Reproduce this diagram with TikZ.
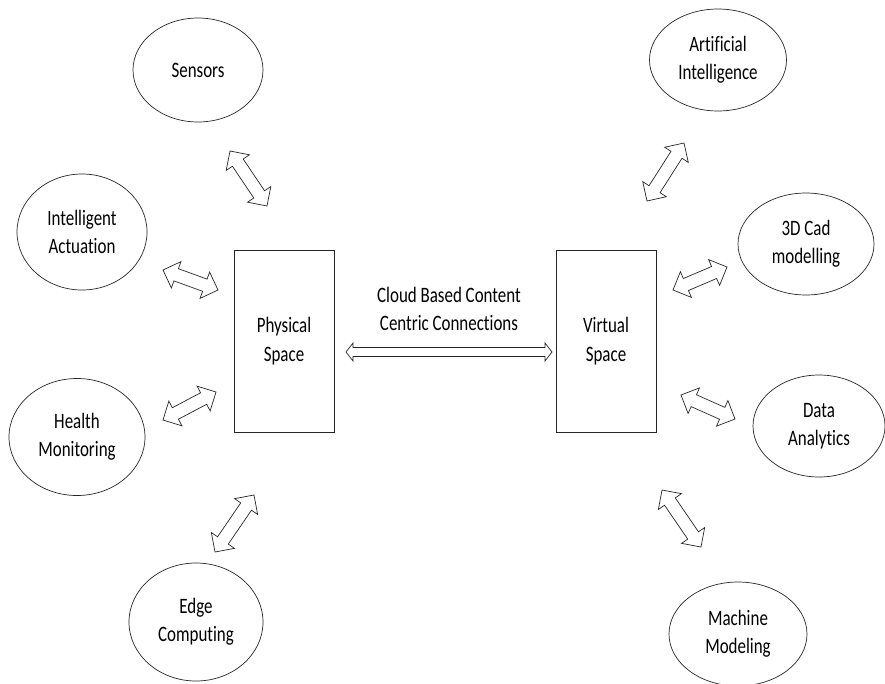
\documentclass[tikz,border=0pt]{standalone}
\usepackage{fontspec}
\setmainfont{Carlito}[FakeStretch=0.77, Ligatures=NoCommon]
\usetikzlibrary{shapes.geometric,calc}

\tikzset{
  bubble/.style={ellipse, draw=black!85, line width=0.7pt, inner sep=0pt,
    align=center, font=\fontsize{22}{28}\selectfont},
  spacebox/.style={rectangle, draw=black!85, line width=0.8pt, inner sep=0pt,
    minimum width=100pt, minimum height=182pt, align=center,
    font=\fontsize{22}{29}\selectfont},
  caption/.style={align=center, inner sep=0pt, font=\fontsize{22}{28}\selectfont},
  arrowline/.style={draw=black!85, line width=0.7pt, line join=miter, fill=white},
}

% hollow double-headed block arrow between two named points
% #1 from, #2 to, #3 head length, #4 head half-width, #5 shaft half-width
\newcommand\blockarrow[5]{%
  \path ($(#1)!#3!(#2)$) coordinate (ba-p)
        ($(#2)!#3!(#1)$) coordinate (ba-q);
  \draw[arrowline] (#1)
    -- ($(ba-p)!#4!90:(#2)$) -- ($(ba-p)!#5!90:(#2)$)
    -- ($(ba-q)!#5!-90:(#1)$) -- ($(ba-q)!#4!-90:(#1)$)
    -- (#2)
    -- ($(ba-q)!#4!90:(#1)$) -- ($(ba-q)!#5!90:(#1)$)
    -- ($(ba-p)!#5!-90:(#2)$) -- ($(ba-p)!#4!-90:(#2)$)
    -- cycle;}

\begin{document}
\begin{tikzpicture}[x=1pt,y=-1pt]
  \useasboundingbox (0,0) rectangle (885,683);

  % the two spaces
  \node[spacebox] (phys) at (284,341) {Physical\\Space};
  \node[spacebox] (virt) at (606,341) {Virtual\\Space};
  \node[caption] (cloud) at (449,309) {Cloud Based Content\\Centric Connections};

  % physical side
  \node[bubble, minimum width=130pt, minimum height=104pt] (sens) at (198,70) {Sensors};
  \node[bubble, minimum width=130pt, minimum height=116pt] (act)  at (82,232) {Intelligent\\Actuation};
  \node[bubble, minimum width=136pt, minimum height=117pt] (hlth) at (77,437) {Health\\Monitoring};
  \node[bubble, minimum width=134pt, minimum height=118pt] (edge) at (196,622) {Edge\\Computing};

  % virtual side
  \node[bubble, minimum width=137pt, minimum height=102pt] (ai)   at (718,60) {Artificial\\Intelligence};
  \node[bubble, minimum width=136pt, minimum height=102pt] (cad)  at (806,244) {3D Cad\\modelling};
  \node[bubble, minimum width=132pt, minimum height=102pt] (data) at (819,426) {Data\\Analytics};
  \node[bubble, minimum width=138pt, minimum height=104pt] (mach) at (738,634) {Machine\\Modeling};

  % arrow end points
  \coordinate (sensA) at (230,151); \coordinate (sensB) at (267,206);
  \coordinate (actA)  at (163,270); \coordinate (actB)  at (218,290);
  \coordinate (hlthA) at (163,420); \coordinate (hlthB) at (216,392);
  \coordinate (edgeA) at (215,552); \coordinate (edgeB) at (254,495);
  \coordinate (aiA)   at (647,201); \coordinate (aiB)   at (684,143);
  \coordinate (cadA)  at (673,290); \coordinate (cadB)  at (727,267);
  \coordinate (dataA) at (681,395); \coordinate (dataB) at (735,419);
  \coordinate (machA) at (662,490); \coordinate (machB) at (701,547);
  \coordinate (midA)  at (346,352); \coordinate (midB)  at (552,352);

  \blockarrow{sensA}{sensB}{14pt}{14pt}{6.5pt}
  \blockarrow{actA}{actB}{14pt}{14pt}{6.5pt}
  \blockarrow{hlthA}{hlthB}{14pt}{14pt}{6.5pt}
  \blockarrow{edgeA}{edgeB}{14pt}{14pt}{6.5pt}
  \blockarrow{aiA}{aiB}{14pt}{14pt}{6.5pt}
  \blockarrow{cadA}{cadB}{14pt}{14pt}{6.5pt}
  \blockarrow{dataA}{dataB}{14pt}{14pt}{6.5pt}
  \blockarrow{machA}{machB}{14pt}{14pt}{6.5pt}
  \blockarrow{midA}{midB}{7pt}{9pt}{4.5pt}
\end{tikzpicture}
\end{document}
